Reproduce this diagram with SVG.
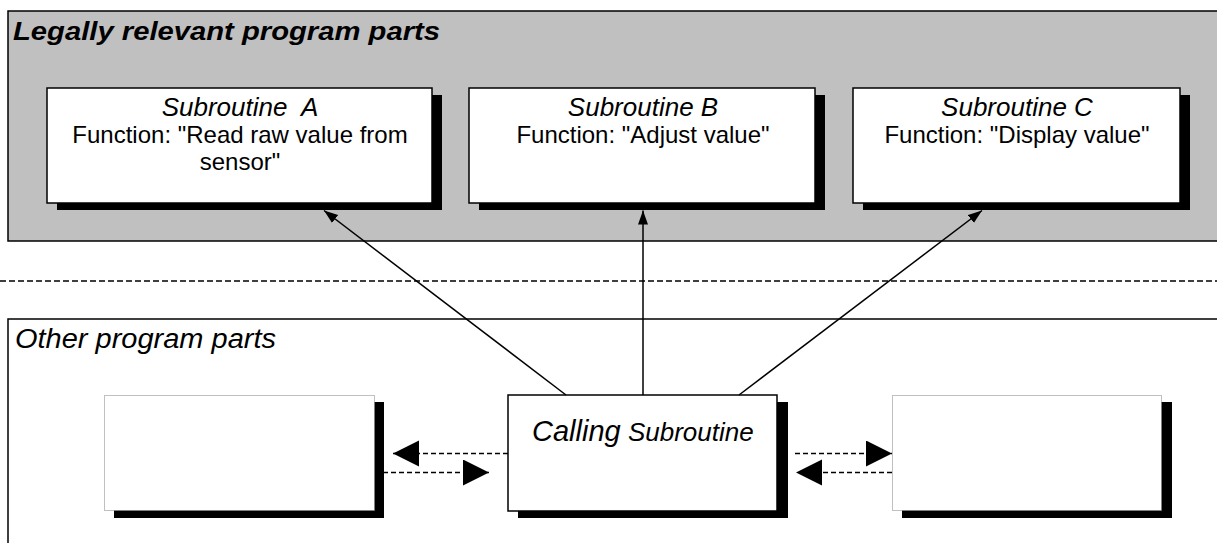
<svg xmlns="http://www.w3.org/2000/svg" width="1217" height="543" viewBox="0 0 1217 543">
<style>
text{font-family:"Liberation Sans",Arial,sans-serif;fill:#000}
.it{font-style:italic}
.box{fill:#fff;stroke:#000;stroke-width:1.5}
.dot{fill:#fff;stroke:#808080;stroke-width:1;stroke-dasharray:1 1}
.sh{fill:#000}
.lbl{font-size:24px;text-anchor:middle}
.hd{font-size:26px;font-style:italic;text-anchor:middle}
.call{stroke:#000;stroke-width:1.5;fill:none;marker-end:url(#ah)}
.dash{stroke:#000;stroke-width:1.5;fill:none;stroke-dasharray:5 3;marker-end:url(#big)}
</style>
<defs>
<marker id="ah" markerUnits="userSpaceOnUse" markerWidth="16" markerHeight="12" refX="14" refY="5" orient="auto"><path d="M0,0 L14,5 L0,10 z" fill="#000"/></marker>
<marker id="big" markerUnits="userSpaceOnUse" markerWidth="28" markerHeight="28" refX="26" refY="13" orient="auto"><path d="M0,0 L26,13 L0,26 z" fill="#000"/></marker>
</defs>
<rect width="1217" height="543" fill="#fff"/>
<g id="legal-panel">
<rect x="8" y="11" width="1220" height="230" fill="#c0c0c0" stroke="#000" stroke-width="1.5"/>
<text x="13" y="40" font-size="26" font-weight="bold" class="it" textLength="427" lengthAdjust="spacingAndGlyphs">Legally relevant program parts</text>
</g>
<line x1="0" y1="281" x2="1217" y2="281" stroke="#000" stroke-width="1.3" stroke-dasharray="6 3"/>
<g id="other-panel">
<rect x="8" y="319" width="1220" height="240" fill="none" stroke="#000" stroke-width="1.5"/>
<text x="15" y="348" font-size="27" class="it" textLength="261" lengthAdjust="spacingAndGlyphs">Other program parts</text>
</g>
<g id="subroutine-a">
<rect class="sh" x="57" y="95" width="385" height="115"/>
<rect class="box" x="47" y="88" width="385" height="115"/>
<text class="hd" x="240" y="116" xml:space="preserve">Subroutine  A</text>
<text class="lbl" x="240" y="143">Function: "Read raw value from</text>
<text class="lbl" x="240" y="170">sensor"</text>
</g>
<g id="subroutine-b">
<rect class="sh" x="479" y="95" width="346" height="115"/>
<rect class="box" x="469" y="88" width="346" height="115"/>
<text class="hd" x="643" y="116">Subroutine B</text>
<text class="lbl" x="643" y="143">Function: "Adjust value"</text>
</g>
<g id="subroutine-c">
<rect class="sh" x="863" y="95" width="327" height="115"/>
<rect class="box" x="853" y="88" width="327" height="115"/>
<text class="hd" x="1017" y="116">Subroutine C</text>
<text class="lbl" x="1017" y="143">Function: "Display value"</text>
</g>
<g id="left-part">
<rect class="sh" x="114" y="402" width="270" height="116"/>
<rect class="dot" x="104.5" y="395.5" width="270" height="115"/>
</g>
<g id="calling-subroutine">
<rect class="sh" x="518" y="402" width="270" height="116"/>
<rect class="box" x="508" y="395" width="269" height="116"/>
<text x="532" y="441" class="it"><tspan font-size="29">Calling</tspan><tspan font-size="26"> Subroutine</tspan></text>
</g>
<g id="right-part">
<rect class="sh" x="902" y="402" width="270" height="116"/>
<rect class="dot" x="892.5" y="395.5" width="269" height="115"/>
</g>
<g id="connectors">
<line class="call" x1="566" y1="395" x2="324" y2="210.5"/>
<line class="call" x1="643" y1="395" x2="643" y2="210.5"/>
<line class="call" x1="739" y1="395" x2="982" y2="210.5"/>
<line class="dash" x1="508" y1="453.5" x2="393" y2="453.5"/>
<line class="dash" x1="375" y1="472.5" x2="489" y2="472.5"/>
<line class="dash" x1="795" y1="453.5" x2="892" y2="453.5"/>
<line class="dash" x1="892" y1="472.5" x2="796" y2="472.5"/>
</g>
</svg>
